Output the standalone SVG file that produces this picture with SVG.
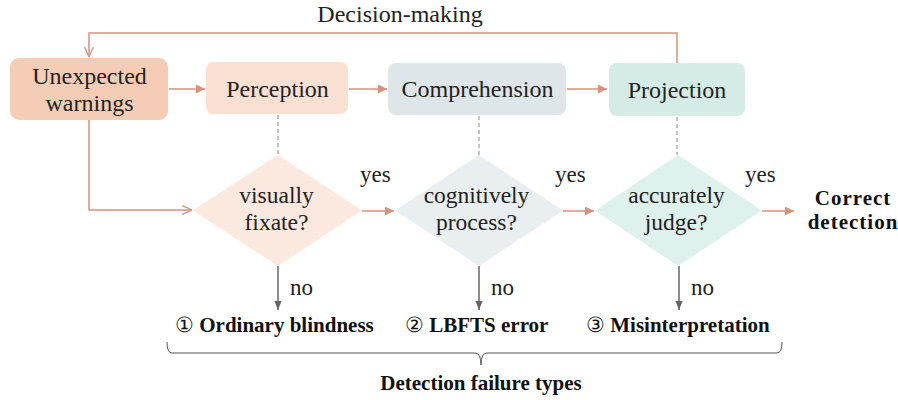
<svg xmlns="http://www.w3.org/2000/svg" width="898" height="400" viewBox="0 0 898 400">
<defs>
<marker id="tri" viewBox="0 0 10 10" refX="10" refY="5" markerWidth="9" markerHeight="9" markerUnits="userSpaceOnUse" orient="auto">
<path d="M0,0 L10,5 L0,10 Z" fill="#d8917c"/>
</marker>
<marker id="open" viewBox="0 0 10 10" refX="10" refY="5" markerWidth="11" markerHeight="11" markerUnits="userSpaceOnUse" orient="auto">
<path d="M1,1 L10,5 L1,9" fill="none" stroke="#d8917c" stroke-width="1.2"/>
</marker>
<marker id="gtri" viewBox="0 0 10 10" refX="10" refY="5" markerWidth="9" markerHeight="9" markerUnits="userSpaceOnUse" orient="auto">
<path d="M0,1 L10,5 L0,9 Z" fill="#666"/>
</marker>
</defs>
<style>
text{font-family:"Liberation Serif","Times New Roman",serif}
.t{font-size:24px;fill:#222;text-anchor:middle}
.d{font-size:23.5px;fill:#222;text-anchor:middle}
.b{font-size:21px;font-weight:bold;fill:#111}
.m{text-anchor:middle}
.n{font-weight:normal}
.s{font-size:23px;fill:#222}
.c{fill:none;stroke:#d8917c;stroke-width:1.5}
.g{fill:none;stroke:#666;stroke-width:1.5}
.dash{fill:none;stroke:#888;stroke-width:1;stroke-dasharray:4,3}
</style>
<text class="t" x="400" y="22">Decision-making</text>
<g id="connectors">
<path class="c" d="M677,63 V33 H89 V57" marker-end="url(#open)"/>
<path class="c" d="M89,120 V210 H192" marker-end="url(#open)"/>
<path class="c" d="M169,89 H205" marker-end="url(#tri)"/>
<path class="c" d="M349,89 H387" marker-end="url(#tri)"/>
<path class="c" d="M567,89 H607" marker-end="url(#tri)"/>
<path class="c" d="M362,211 H394" marker-end="url(#tri)"/>
<path class="c" d="M563,211 H594" marker-end="url(#tri)"/>
<path class="c" d="M762,211 H794" marker-end="url(#tri)"/>
<path class="dash" d="M278,115 V155"/>
<path class="dash" d="M479,116 V155"/>
<path class="dash" d="M677,117 V155"/>
<path class="g" d="M278,266 V310" marker-end="url(#gtri)"/>
<path class="g" d="M479,266 V310" marker-end="url(#gtri)"/>
<path class="g" d="M679,266 V310" marker-end="url(#gtri)"/>
<text class="s" x="360" y="182">yes</text>
<text class="s" x="555" y="182">yes</text>
<text class="s" x="745" y="182">yes</text>
<text class="s" x="290" y="295">no</text>
<text class="s" x="491" y="295">no</text>
<text class="s" x="691" y="295">no</text>
</g>
<g id="unexpected">
<rect x="10" y="58" width="158" height="62" rx="9" fill="#f5cdb6"/>
<text class="t" x="89.5" y="84">Unexpected</text>
<text class="t" x="89.5" y="111">warnings</text>
</g>
<g id="perception">
<rect x="206" y="62" width="142" height="52" rx="8" fill="#fae0d2"/>
<text class="t" x="277.5" y="97">Perception</text>
</g>
<g id="comprehension">
<rect x="388" y="63" width="178" height="52" rx="8" fill="#dfe6ea"/>
<text class="t" x="477.5" y="97">Comprehension</text>
</g>
<g id="projection">
<rect x="609" y="63" width="136" height="53" rx="8" fill="#d5ece6"/>
<text class="t" x="677" y="98">Projection</text>
</g>
<g id="d1">
<polygon points="278,155 362,210.5 278,266 193,210.5" fill="#fbe9df"/>
<text class="d" x="276.5" y="203">visually</text>
<text class="d" x="276.5" y="230">fixate?</text>
</g>
<g id="d2">
<polygon points="479,155 563,210.5 479,266 395,210.5" fill="#e9eff1"/>
<text class="d" x="476.5" y="203">cognitively</text>
<text class="d" x="476.5" y="230">process?</text>
</g>
<g id="d3">
<polygon points="678,155 762,210.5 678,266 595,210.5" fill="#def1ec"/>
<text class="d" x="676.5" y="203">accurately</text>
<text class="d" x="676" y="230">judge?</text>
</g>
<g id="correct">
<text class="b m" x="853" y="205" font-size="18.5" letter-spacing="1">Correct</text>
<text class="b m" x="853" y="229" font-size="18.5" letter-spacing="1">detection</text>
</g>
<g id="f1"><text class="b" x="175" y="332"><tspan class="n">①</tspan> Ordinary blindness</text></g>
<g id="f2"><text class="b" x="405" y="332"><tspan class="n">②</tspan> LBFTS error</text></g>
<g id="f3"><text class="b" x="586" y="332"><tspan class="n">③</tspan> Misinterpretation</text></g>
<g id="brace">
<path d="M167,342 Q167,353 172,353 H475 Q481,353 481,365 Q481,353 487,353 H777 Q782,353 782,342" fill="none" stroke="#555" stroke-width="1"/>
<text class="b m" x="481" y="390">Detection failure types</text>
</g>
</svg>
